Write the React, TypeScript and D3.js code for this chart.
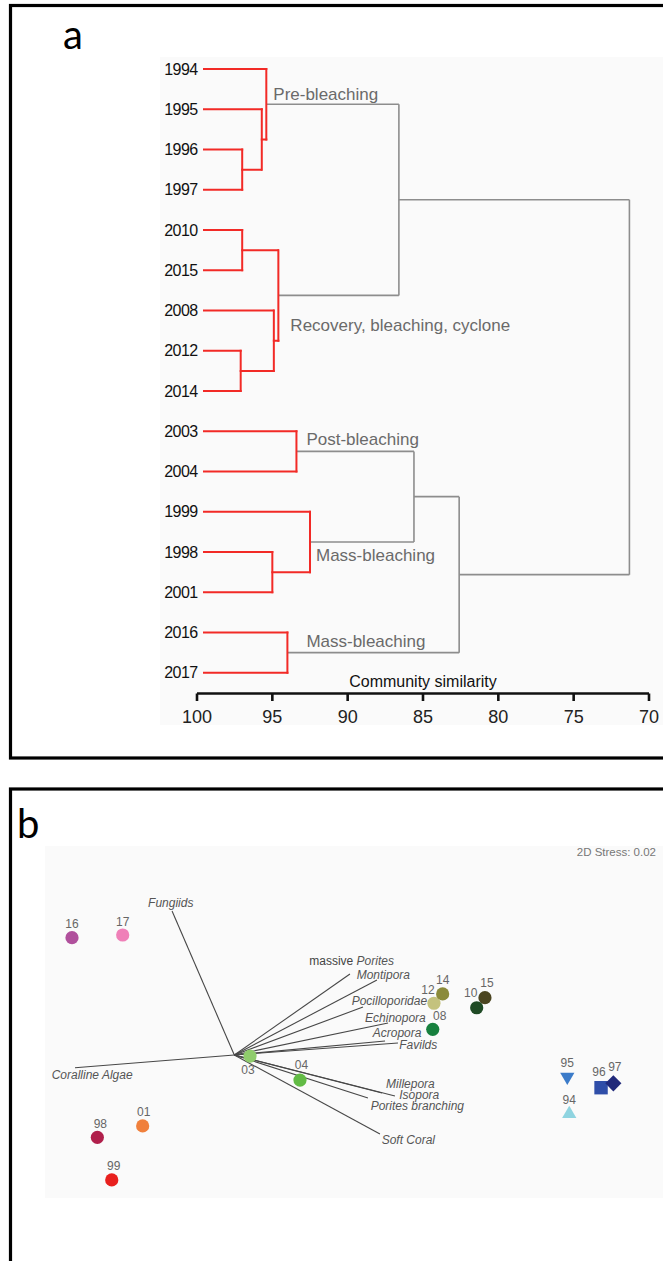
import React from "react";
import * as d3 from "d3";

// ---------- Panel a: cluster dendrogram of survey years ----------
const leafYears = [
  "1994", "1995", "1996", "1997", "2010", "2015", "2008", "2012",
  "2014", "2003", "2004", "1999", "1998", "2001", "2016", "2017",
];

// hclust-style merge table: negative = leaf (1-based), positive = earlier merge (1-based)
const mergeLeft = [-3, -2, -1, -5, -8, -7, 4, 3, -10, -13, -12, 9, -15, 12, 8];
const mergeRight = [-4, 1, 2, -6, -9, 5, 6, 7, -11, -14, 10, 11, -16, 13, 14];
const mergeSimilarity = [97.0, 95.7, 95.4, 97.0, 97.1, 94.9, 94.6, 86.6, 93.4, 95.0, 92.5, 85.6, 94.0, 82.6, 71.3];

// merges that define the named groups
const groupMerge = [3, 7, 9, 11, 13];
const groupNames = ["Pre-bleaching", "Recovery, bleaching, cyclone", "Post-bleaching", "Mass-bleaching", "Mass-bleaching"];

const similarityTicks = [100, 95, 90, 85, 80, 75, 70];

// ---------- Panel b: nMDS ordination ----------
const sampleLabels = ["16", "17", "12", "14", "15", "10", "08", "04", "03", "95", "94", "96", "97", "98", "01", "99"];
const sampleMds1 = [-1.72, -1.382, 0.693, 0.751, 1.033, 0.978, 0.685, -0.2, -0.533, 1.582, 1.595, 1.807, 1.889, -1.551, -1.249, -1.455];
const sampleMds2 = [0.682, 0.7, 0.245, 0.307, 0.282, 0.215, 0.071, -0.267, -0.107, -0.245, -0.493, -0.318, -0.289, -0.649, -0.573, -0.933];
const sampleShape = [
  "circle", "circle", "circle", "circle", "circle", "circle", "circle", "circle", "circle",
  "triangleDown", "triangleUp", "square", "diamond", "circle", "circle", "circle",
];

const taxonNames = [
  "Fungiids", "Coralline Algae", "massive Porites", "Montipora", "Pocilloporidae", "Echinopora",
  "Acropora", "Favilds", "Millepora", "Isopora", "Porites branching", "Soft Coral",
];
const vectorOrigin = [-0.638, -0.1];
const taxonMds1 = [-1.053, -1.7, 0.133, 0.313, 0.22, 0.387, 0.367, 0.453, 0.347, 0.433, 0.253, 0.333];
const taxonMds2 = [0.86, -0.185, 0.44, 0.4, 0.22, 0.113, -0.007, -0.02, -0.353, -0.373, -0.387, -0.627];

const stressLabel = "2D Stress: 0.02";

// ---------- styling ----------
const SANS = "'Liberation Sans', Arial, Helvetica, sans-serif";
const RED = "#f22a26";
const GREY = "#8d8d8d";

const sampleColor: Record<string, string> = {
  "16": "#b0509c", "17": "#ef80b8", "12": "#c4c27e", "14": "#8b8b3a", "15": "#4b4520",
  "10": "#1f4a25", "08": "#17803e", "04": "#62bb45", "03": "#8fcc6c", "95": "#3b7bc9",
  "94": "#8fd4e0", "96": "#2f4ea8", "97": "#20297a", "98": "#b01f4b", "01": "#f0803c", "99": "#e8201e",
};
const sampleLabelOffset: Record<string, [number, number]> = {
  "03": [-2, 18], "12": [-6, -9.5], "10": [-6, -11], "08": [7, -9], "96": [-2, -11.5], "97": [1.5, -12.5],
  "98": [3, -9.5], "99": [2, -10], "01": [1, -9.5], "04": [1.5, -11], "15": [2, -11], "16": [0, -10], "17": [0, -9.5],
};
const groupLabelOffset: [number, number][] = [[7, -4], [12, 36], [10, -6], [6, 19], [19, -6]];
const taxonLabelOffset: [number, number][] = [
  [-24, -4.3], [-23.3, 11.3], [-40.7, -9], [-20.3, -0.7], [-11.3, -2], [-23, -1.3],
  [-12.3, -4.3], [1.3, 6], [4, -5.3], [4.3, 3.3], [2.7, 12], [1.7, 10],
];

type Link = { x1: number; y1: number; x2: number; y2: number; red: boolean };

function Dendrogram() {
  const x = d3.scaleLinear().domain([100, 70]).range([197, 649]);
  const y = d3.scalePoint<string>().domain(leafYears).range([69, 672.75]);
  const leafStart = x(100) + 7;

  // position of every merge node
  const nodeX: number[] = [];
  const nodeY: number[] = [];
  const childPos = (c: number) =>
    c < 0 ? [leafStart, y(leafYears[-c - 1]) as number] : [nodeX[c - 1], nodeY[c - 1]];
  mergeLeft.forEach((l, i) => {
    const a = childPos(l);
    const b = childPos(mergeRight[i]);
    nodeX.push(x(mergeSimilarity[i]));
    nodeY.push((a[1] + b[1]) / 2);
  });

  // merges inside a named group are drawn red
  const inGroup = new Array(mergeLeft.length).fill(false);
  const mark = (m: number) => {
    if (m <= 0) return;
    inGroup[m - 1] = true;
    mark(mergeLeft[m - 1]);
    mark(mergeRight[m - 1]);
  };
  groupMerge.forEach(mark);

  const links: Link[] = [];
  mergeLeft.forEach((l, i) => {
    const red = inGroup[i];
    const a = childPos(l);
    const b = childPos(mergeRight[i]);
    links.push({ x1: nodeX[i], y1: a[1], x2: nodeX[i], y2: b[1], red });
    links.push({ x1: a[0], y1: a[1], x2: nodeX[i], y2: a[1], red });
    links.push({ x1: b[0], y1: b[1], x2: nodeX[i], y2: b[1], red });
  });

  const axisY = 693.5;
  return (
    <g>
      <rect x={160} y={57} width={503} height={668} fill="#fafafa" />
      {links.filter((d) => !d.red).map((d, i) => (
        <line key={"g" + i} x1={d.x1} y1={d.y1} x2={d.x2} y2={d.y2} stroke={GREY} strokeWidth={1.6} />
      ))}
      {links.filter((d) => d.red).map((d, i) => (
        <line key={"r" + i} x1={d.x1} y1={d.y1} x2={d.x2} y2={d.y2} stroke={RED} strokeWidth={2}
          strokeDasharray="2.2 0.6" strokeLinecap="square" />
      ))}
      {leafYears.map((yr) => (
        <text key={yr} x={197.5} y={(y(yr) as number) + 5.6} textAnchor="end" fontFamily={SANS}
          fontSize={16} fill="#111" letterSpacing={-0.6}>{yr}</text>
      ))}
      {groupMerge.map((m, i) => (
        <text key={"grp" + i} x={nodeX[m - 1] + groupLabelOffset[i][0]} y={nodeY[m - 1] + groupLabelOffset[i][1]}
          fontFamily={SANS} fontSize={17} fill="#6a6a6a">{groupNames[i]}</text>
      ))}
      <text x={423} y={687} textAnchor="middle" fontFamily={SANS} fontSize={16} fill="#111">Community similarity</text>
      <line x1={x(100)} x2={x(70)} y1={axisY} y2={axisY} stroke="#111" strokeWidth={2.6} />
      {similarityTicks.map((t) => (
        <g key={t} transform={`translate(${x(t)},0)`}>
          <line y1={axisY} y2={axisY + 7.5} stroke="#111" strokeWidth={2.6} />
          <text y={723} textAnchor="middle" fontFamily={SANS} fontSize={18} fill="#222">{t}</text>
        </g>
      ))}
    </g>
  );
}

function Ordination() {
  const x = d3.scaleLinear().domain([-1, 1]).range([180, 480]);
  const y = d3.scaleLinear().domain([-1, 1]).range([1190, 890]);
  const ox = x(vectorOrigin[0]);
  const oy = y(vectorOrigin[1]);

  const symbolPath = (shape: string) => {
    if (shape === "triangleUp" || shape === "triangleDown")
      return d3.symbol().type(d3.symbolTriangle).size(88)() as string;
    if (shape === "square") return d3.symbol().type(d3.symbolSquare).size(180)() as string;
    return d3.symbol().type(d3.symbolSquare).size(130)() as string;
  };
  const symbolRotate = (shape: string) => (shape === "triangleDown" ? 180 : shape === "diamond" ? 45 : 0);

  return (
    <g>
      <rect x={45} y={846} width={618} height={352} fill="#fafafa" />
      <text x={656} y={856} textAnchor="end" fontFamily={SANS} fontSize={11.5} fill="#777">{stressLabel}</text>
      {taxonNames.map((n, i) => (
        <line key={"v" + n} x1={ox} y1={oy} x2={x(taxonMds1[i])} y2={y(taxonMds2[i])} stroke="#474747" strokeWidth={1.1} />
      ))}
      {taxonNames.map((n, i) => {
        const tx = x(taxonMds1[i]) + taxonLabelOffset[i][0];
        const ty = y(taxonMds2[i]) + taxonLabelOffset[i][1];
        if (n.startsWith("massive ")) {
          return (
            <text key={"t" + n} x={tx} y={ty} fontFamily={SANS} fontSize={12} fill="#444">
              massive <tspan fontStyle="italic" fill="#555">{n.slice(8)}</tspan>
            </text>
          );
        }
        return (
          <text key={"t" + n} x={tx} y={ty} fontFamily={SANS} fontSize={12} fontStyle="italic" fill="#555">{n}</text>
        );
      })}
      {sampleLabels.map((s, i) => {
        const px = x(sampleMds1[i]);
        const py = y(sampleMds2[i]);
        const shape = sampleShape[i];
        const off = sampleLabelOffset[s] || [0, -10];
        return (
          <g key={"s" + s}>
            {shape === "circle" ? (
              <circle cx={px} cy={py} r={6.6} fill={sampleColor[s]} />
            ) : (
              <path d={symbolPath(shape)} transform={`translate(${px},${py}) rotate(${symbolRotate(shape)})`} fill={sampleColor[s]} />
            )}
            <text x={px + off[0]} y={py + off[1]} textAnchor="middle" fontFamily={SANS} fontSize={12} fill="#666">{s}</text>
          </g>
        );
      })}
    </g>
  );
}

export default function App() {
  return (
    <svg width={663} height={1261} viewBox="0 0 663 1261"
      style={{ position: "absolute", left: 0, top: 0, background: "#fff" }}>
      <rect x={0} y={0} width={663} height={1261} fill="#fff" />
      {/* panel frames */}
      <rect x={10.5} y={5.5} width={700} height={752.5} fill="none" stroke="#000" strokeWidth={3.2} />
      <rect x={10.5} y={789} width={700} height={520} fill="none" stroke="#000" strokeWidth={3.2} />
      <text x={63} y={49} fontFamily="Lato, 'Open Sans', sans-serif" fontSize={40} fill="#000">a</text>
      <text x={17} y={838} fontFamily="Lato, 'Open Sans', sans-serif" fontSize={40} fill="#000">b</text>
      <Dendrogram />
      <Ordination />
    </svg>
  );
}
